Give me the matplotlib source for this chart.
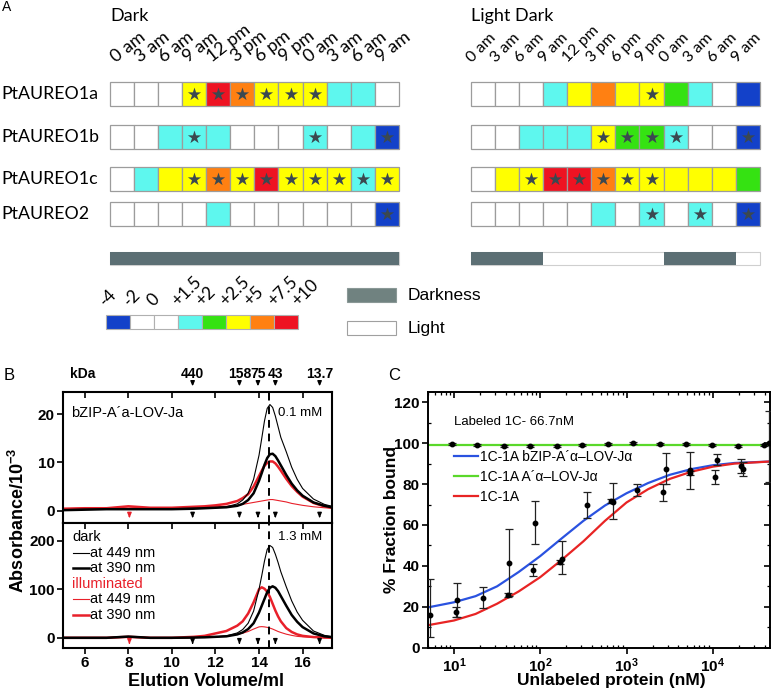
import matplotlib
matplotlib.use('Agg')
import matplotlib.pyplot as plt
from matplotlib.patches import Rectangle
from matplotlib.ticker import LogLocator, LogFormatterMathtext, NullFormatter, MultipleLocator

plt.rcParams['font.family'] = ['Liberation Sans', 'DejaVu Sans']
plt.rcParams['mathtext.default'] = 'regular'

# ---------------- panel A data ----------------
times = ['0 am', '3 am', '6 am', '9 am', '12 pm', '3 pm', '6 pm', '9 pm',
         '0 am', '3 am', '6 am', '9 am']
genes = ['PtAUREO1a', 'PtAUREO1b', 'PtAUREO1c', 'PtAUREO2']
scale_labels = ['-4', '-2', '0', '+1.5', '+2', '+2.5', '+5', '+7.5', '+10']
scale_colors = ['#1341c9', '#ffffff', '#ffffff', '#5ef7ee', '#35e212',
                '#ffff00', '#ff8012', '#ee1322']

# colour class index (into scale_colors) for every 3 h time point
dark_level = [[2, 2, 2, 5, 7, 6, 5, 5, 5, 3, 3, 2],
              [2, 2, 3, 3, 3, 2, 2, 2, 3, 2, 3, 0],
              [2, 3, 5, 5, 6, 5, 7, 5, 5, 5, 3, 5],
              [2, 2, 2, 2, 3, 2, 2, 2, 2, 2, 2, 0]]
dark_star = [[0, 0, 0, 1, 1, 1, 1, 1, 1, 0, 0, 0],
             [0, 0, 0, 1, 0, 0, 0, 0, 1, 0, 0, 1],
             [0, 0, 0, 1, 1, 1, 1, 1, 1, 1, 1, 1],
             [0, 0, 0, 0, 0, 0, 0, 0, 0, 0, 0, 1]]
ld_level = [[2, 2, 2, 3, 5, 6, 5, 5, 4, 3, 2, 0],
            [2, 2, 3, 3, 3, 5, 4, 4, 3, 2, 2, 0],
            [2, 5, 5, 7, 7, 6, 5, 5, 5, 5, 5, 4],
            [2, 2, 2, 2, 2, 3, 2, 3, 2, 3, 2, 0]]
ld_star = [[0, 0, 0, 0, 0, 0, 0, 1, 0, 0, 0, 0],
           [0, 0, 0, 0, 0, 1, 1, 1, 1, 0, 0, 1],
           [0, 0, 1, 1, 1, 1, 1, 1, 0, 0, 0, 0],
           [0, 0, 0, 0, 0, 0, 0, 1, 0, 1, 0, 1]]
dark_cycle = 'DDDDDDDDDDDD'
ld_cycle = 'DDDLLLLLDDDL'

# ---------------- panel B data (SEC traces) ----------------
elution = [5, 6, 7, 8, 9, 10, 11, 11.5, 12, 12.5, 13, 13.25, 13.5, 13.75, 14,
           14.125, 14.25, 14.375, 14.5, 14.625, 14.75, 14.875, 15, 15.25, 15.5,
           15.75, 16, 16.5, 17, 17.35]
low_dark_449 = [0.2, 0.3, 0.3, 0.4, 0.3, 0.4, 0.5, 0.5, 0.6, 0.8, 1.4, 2.2, 3.6,
                6.5, 11.5, 15, 18.6, 21.2, 22, 21.4, 19.6, 17.4, 15.2, 12.2, 9.0,
                6.5, 4.6, 2.4, 1.3, 0.9]
low_dark_390 = [0.1, 0.2, 0.3, 0.3, 0.3, 0.3, 0.4, 0.5, 0.6, 0.7, 1.0, 1.4, 2.2,
                3.6, 6.2, 7.8, 9.5, 10.9, 11.7, 11.8, 11.3, 10.4, 9.4, 7.4, 5.6,
                4.2, 3.1, 1.7, 1.0, 0.7]
low_ill_449 = [0.4, 0.5, 0.5, 0.8, 0.5, 0.5, 0.6, 0.7, 0.8, 0.9, 1.1, 1.3, 1.5,
               1.7, 1.9, 2.0, 2.1, 2.2, 2.3, 2.3, 2.2, 2.1, 2.0, 1.8, 1.5, 1.3,
               1.1, 0.8, 0.6, 0.5]
low_ill_390 = [0.4, 0.5, 0.5, 0.9, 0.6, 0.6, 0.8, 0.9, 1.1, 1.4, 2.0, 2.6, 3.4,
               5.0, 7.2, 8.3, 9.3, 9.9, 10.2, 10.2, 9.8, 9.1, 8.3, 6.6, 5.1, 3.9,
               2.9, 1.6, 0.9, 0.6]
high_dark_449 = [0, 0, 0, 2.5, 0, 0, 0.5, 1, 2, 4, 10, 17, 30, 55, 100, 128, 158,
                 182, 190, 186, 172, 155, 136, 105, 76, 53, 36, 14, 5, 2]
high_dark_390 = [0, 0, 0, 2.5, 0, 0, 0.5, 1, 2, 3, 7, 11, 18, 30, 52, 66, 80, 94,
                 103, 106, 103, 96, 86, 66, 47, 33, 22, 9, 3, 1.5]
high_ill_449 = [0, 0, 0, 1, 0, 0, 0.5, 1, 2, 3.5, 7, 9.5, 13, 18, 22.5, 23, 22.5,
                21.5, 20, 18, 15.5, 13, 11, 7.5, 5, 3, 2, 1, 0.5, 0]
high_ill_390 = [0, 0, 0, 2, 0, 0, 2, 4, 9, 14, 25, 34, 50, 73, 100, 104, 101, 95,
                84, 70, 56, 44, 34, 20, 12, 7, 4, 1.5, 0.5, 0]
marker_kda = ['440', '158', '75', '43', '13.7']
marker_vol = [10.95, 13.1, 13.95, 14.75, 16.78]
void_vol = 8.05
peak_line = 14.45

# ---------------- panel C data (binding) ----------------
bind_x = [5.3, 10.5, 10.9, 21.8, 41.9, 43.9, 83.4, 87.1, 169, 177, 352, 665, 700,
          1325, 2680, 2856, 5400, 5500, 10540, 11200, 21200, 22300, 45000]
bind_y = [16.1, 17.6, 23.5, 24.3, 25.8, 41.3, 38.1, 61.2, 41.8, 43.4, 69.7, 71.7,
          71.4, 77.1, 75.9, 87.4, 85.3, 86.8, 83.3, 91.8, 88.9, 87.3, 100.3]
bind_lo = [10.8, 2.5, 8.7, 5.1, 1.0, 15.9, 3.0, 10.7, 1.0, 7.6, 6.5, 1.0, 8.7,
           2.7, 4.0, 7.6, 1.0, 9.0, 3.4, 2.7, 3.5, 3.6, 19.1]
bind_hi = [17.5, 2.5, 8.0, 5.2, 1.0, 16.9, 3.0, 10.6, 1.0, 8.7, 6.5, 1.0, 9.0,
           2.7, 4.0, 7.6, 1.0, 9.0, 3.4, 2.7, 3.5, 3.6, 15.3]
flat_x = [9.4, 18.6, 37.8, 76, 155, 302, 603, 1200, 2450, 4900, 9800, 19500, 39000]
flat_y = [99.4, 99.0, 98.8, 98.6, 98.8, 98.9, 99.5, 100.2, 99.6, 99.6, 99.2,
          98.5, 99.2]
fit_x = [5, 10, 17.8, 31.6, 56.2, 100, 178, 316, 562, 1000, 1780, 3160, 5620,
         10000, 17800, 45000]
fit_bzip = [19.7, 22.2, 25.2, 30, 37, 44.8, 53.5, 62, 69.5, 75.5, 80.5, 84.5,
            87.3, 89.2, 90.3, 91]
fit_1c1a = [11, 13.3, 16.5, 21.5, 27.5, 34.5, 43, 52, 62, 71, 77.5, 82.5, 86,
            88.5, 90, 91]
fit_lov_x = [5, 45000]
fit_lov = [99.3, 99.3]

fig = plt.figure(figsize=(7.77, 6.93), dpi=100)

# ======== panel A: drawn on a pixel canvas ========
axA = fig.add_axes([0, 0, 1, 1])
axA.set_xlim(0, 777)
axA.set_ylim(693, 0)
axA.axis('off')

cw, rh = 24.07, 24
row_top = [82, 125, 167, 202]
edge = '#9c9c9c'


def heat(x0, levels, stars, lab_dx, lab_fs, lab_rot):
    for r, (lv, st) in enumerate(zip(levels, stars)):
        y0 = row_top[r]
        for c, v in enumerate(lv):
            axA.add_patch(Rectangle((x0 + c * cw, y0), cw, rh,
                                    facecolor=scale_colors[v], edgecolor=edge, lw=0.9))
        xs = [x0 + (c + 0.5) * cw for c, s in enumerate(st) if s]
        axA.scatter(xs, [y0 + rh / 2] * len(xs), marker='*', s=100,
                    color='#3b4850', zorder=3, linewidths=0)
    for c, t in enumerate(times):
        axA.text(x0 + c * cw + lab_dx, 63, t, rotation=lab_rot, rotation_mode='anchor',
                 ha='left', va='baseline', fontsize=lab_fs, family='Lato')


def cycle_bar(x0, cyc):
    axA.add_patch(Rectangle((x0, 252), cw * len(cyc), 13, facecolor='white',
                            edgecolor='#cfcfcf', lw=0.8))
    for c, s in enumerate(cyc):
        if s == 'D':
            axA.add_patch(Rectangle((x0 + c * cw, 252), cw, 13, facecolor='#5c6f74',
                                    edgecolor='none'))


heat(110, dark_level, dark_star, 6, 13, 38)
heat(471, ld_level, ld_star, 1, 11.5, 45)
cycle_bar(110, dark_cycle)
cycle_bar(471, ld_cycle)

for r, g in enumerate(genes):
    axA.text(1, row_top[r] + rh / 2, g, fontsize=12.8, family='Lato', va='center')
axA.text(110, 16, 'Dark', fontsize=13, family='Lato', va='center')
axA.text(471, 16, 'Light Dark', fontsize=13, family='Lato', va='center')
axA.text(2, 7, 'A', fontsize=10, va='center')

for i, col in enumerate(scale_colors):
    axA.add_patch(Rectangle((106 + i * 24, 315), 24, 14, facecolor=col,
                            edgecolor='#b0b0b0', lw=0.8))
for i, s in enumerate(scale_labels):
    axA.text(106 + i * 24, 307, s, rotation=45, rotation_mode='anchor', ha='left',
             va='baseline', fontsize=12.5, family='Lato')

axA.add_patch(Rectangle((347, 288), 49, 14, facecolor='#708280', edgecolor='#8a9896', lw=0.8))
axA.add_patch(Rectangle((347, 321), 49, 14, facecolor='white', edgecolor='#a0a0a0', lw=0.8))
axA.text(408, 295, 'Darkness', fontsize=12.5, va='center')
axA.text(408, 328, 'Light', fontsize=12.5, va='center')

axA.text(4, 376, 'B', fontsize=12, va='center')
axA.text(388, 376, 'C', fontsize=12, va='center')

# ======== panel B ========
red = '#e8202a'
axt = fig.add_axes([63 / 777, 1 - 522.7 / 693, 269 / 777, 130.7 / 693])
axb = fig.add_axes([63 / 777, 1 - 648 / 693, 269 / 777, 125.3 / 693])

axt.plot(elution, low_ill_449, color=red, lw=0.8)
axt.plot(elution, low_ill_390, color=red, lw=1.8)
axt.plot(elution, low_dark_449, color='black', lw=0.8)
axt.plot(elution, low_dark_390, color='black', lw=1.8)
axb.plot(elution, high_ill_449, color=red, lw=0.8)
axb.plot(elution, high_ill_390, color=red, lw=1.8)
axb.plot(elution, high_dark_449, color='black', lw=0.8)
axb.plot(elution, high_dark_390, color='black', lw=1.8)

axt.set_ylim(-2.5, 24.6)
axb.set_ylim(-21, 237)
for a in (axt, axb):
    a.set_xlim(5, 17.35)
    a.axvline(peak_line, color='black', lw=1.4, ls=(0, (4, 3)))
    a.set_xticks([6, 8, 10, 12, 14, 16])
    for sp in a.spines.values():
        sp.set_linewidth(1.5)
    a.tick_params(axis='y', direction='out', length=4, width=1.2, labelsize=11,
                  pad=2)
axt.set_yticks([0, 10, 20])
axb.set_yticks([0, 100, 200])
axt.tick_params(axis='x', top=True, bottom=False, direction='in',
                length=4, width=1.2, labelbottom=False)
axb.tick_params(axis='x', top=True, direction='out', length=4, width=1.2,
                labelsize=11, pad=2)
for lab in axt.get_yticklabels() + axb.get_yticklabels() + axb.get_xticklabels():
    lab.set_fontweight('bold')
# top ticks of the lower axes point inward
for t in axb.xaxis.get_major_ticks():
    t.tick2line.set_marker(3)

arrow = dict(arrowstyle='-|>,head_length=0.28,head_width=0.12', lw=1.0)
for v, k in zip(marker_vol, marker_kda):
    axt.annotate('', xy=(v, 1.022), xytext=(v, 1.095), xycoords=('data', 'axes fraction'),
                 arrowprops=dict(arrow, color='black'), annotation_clip=False)
    axt.text(v, 1.14, k, transform=axt.get_xaxis_transform(), ha='center',
             va='center', fontsize=10, fontweight='bold')
    axt.annotate('', xy=(v, -2.1), xytext=(v, -0.4), arrowprops=dict(arrow, color='black'))
    axb.annotate('', xy=(v, -19), xytext=(v, -4.5), arrowprops=dict(arrow, color='black'))
axt.annotate('', xy=(void_vol, -2.1), xytext=(void_vol, -0.4), arrowprops=dict(arrow, color=red))
axb.annotate('', xy=(void_vol, -19), xytext=(void_vol, -4.5), arrowprops=dict(arrow, color=red))
axt.text(0.026, 1.14, 'kDa', transform=axt.transAxes, va='center', fontsize=10,
         fontweight='bold')

axt.text(5.35, 20.3, 'bZIP-A\u00b4a-LOV-Ja', fontsize=10.5, va='center')
axt.text(16.92, 20.3, '0.1 mM', fontsize=9.5, va='center', ha='right')
axb.text(16.92, 207.6, '1.3 mM', fontsize=9.5, va='center', ha='right')

# hand-made legend of the lower plot
leg_rows = [('dark', None, None), ('at 449 nm', 'black', 0.8), ('at 390 nm', 'black', 1.8),
            ('illuminated', red, None), ('at 449 nm', red, 0.8), ('at 390 nm', red, 1.8)]
for i, (txt, col, lw) in enumerate(leg_rows):
    yy = 0.886 - i * 0.1246
    if lw is None:
        axb.text(0.033, yy, txt, transform=axb.transAxes, va='center', fontsize=10.5,
                 color='black' if txt == 'dark' else red)
    else:
        axb.plot([0.037, 0.097], [yy, yy], transform=axb.transAxes, color=col, lw=lw)
        axb.text(0.1, yy, txt, transform=axb.transAxes, va='center', fontsize=10.5)

axb.set_xlabel('Elution Volume/ml', fontsize=13, fontweight='bold')
axb.xaxis.set_label_coords(0.532, -0.2)
fig.text(18 / 777, 1 - 520 / 693, 'Absorbance/10$^{-3}$', rotation=90, ha='center',
         va='center', fontsize=13, fontweight='bold')

# ======== panel C ========
axc = fig.add_axes([428 / 777, 1 - 647.7 / 693, 342 / 777, 255.7 / 693])
axc.plot(fit_lov_x, fit_lov, color='#5ad82a', lw=1.6, label='1C-1A A\u00b4\u03b1\u2013LOV-J\u03b1', zorder=2)
axc.plot(fit_x, fit_bzip, color='#2a52e0', lw=1.6, label='1C-1A bZIP-A\u00b4\u03b1\u2013LOV-J\u03b1', zorder=2)
axc.plot(fit_x, fit_1c1a, color='#e82424', lw=1.6, label='1C-1A', zorder=2)
axc.errorbar(bind_x, bind_y, yerr=[bind_lo, bind_hi], fmt='o', ms=3.2, color='black',
             ecolor='#222222', elinewidth=0.9, capsize=3, capthick=0.9, zorder=3)
axc.errorbar(flat_x, flat_y, yerr=0.5, fmt='o', ms=3.2, color='black',
             ecolor='#222222', elinewidth=0.9, capsize=3, capthick=0.9, zorder=3)
axc.set_xscale('log')
axc.set_xlim(5, 46000)
axc.set_ylim(0, 125)
axc.set_yticks([0, 20, 40, 60, 80, 100, 120])
axc.yaxis.set_minor_locator(MultipleLocator(10))
axc.xaxis.set_major_locator(LogLocator(base=10, numticks=10))
axc.xaxis.set_minor_locator(LogLocator(base=10, subs=range(2, 10), numticks=20))
axc.xaxis.set_major_formatter(LogFormatterMathtext())
axc.xaxis.set_minor_formatter(NullFormatter())
for sp in axc.spines.values():
    sp.set_linewidth(1.4)
axc.tick_params(which='major', direction='out', length=4, width=1.2, labelsize=11, pad=2)
axc.tick_params(which='minor', direction='in', length=2.5, width=0.9)
axc.tick_params(which='both', top=True, right=True)
for t in axc.xaxis.get_major_ticks():
    t.tick2line.set_marker(3)
for t in axc.yaxis.get_major_ticks():
    t.tick2line.set_marker(0)
for lab in axc.get_xticklabels() + axc.get_yticklabels():
    lab.set_fontweight('bold')
handles, labels = axc.get_legend_handles_labels()
axc.legend([handles[1], handles[0], handles[2]], [labels[1], labels[0], labels[2]],
           loc='upper left', bbox_to_anchor=(0.06, 0.795), frameon=False, fontsize=10,
           handlelength=1.7, handletextpad=0.2, labelspacing=0.42, borderaxespad=0)
axc.text(10, 110.2, 'Labeled 1C- 66.7nM', fontsize=9.5, va='center')
axc.set_xlabel('Unlabeled protein (nM)', fontsize=12.5, fontweight='bold')
axc.xaxis.set_label_coords(0.535, -0.1)
axc.set_ylabel('% Fraction bound', fontsize=12.5, fontweight='bold')
axc.yaxis.set_label_coords(-0.085, 0.5)

fig.savefig('out.png', dpi=100)
